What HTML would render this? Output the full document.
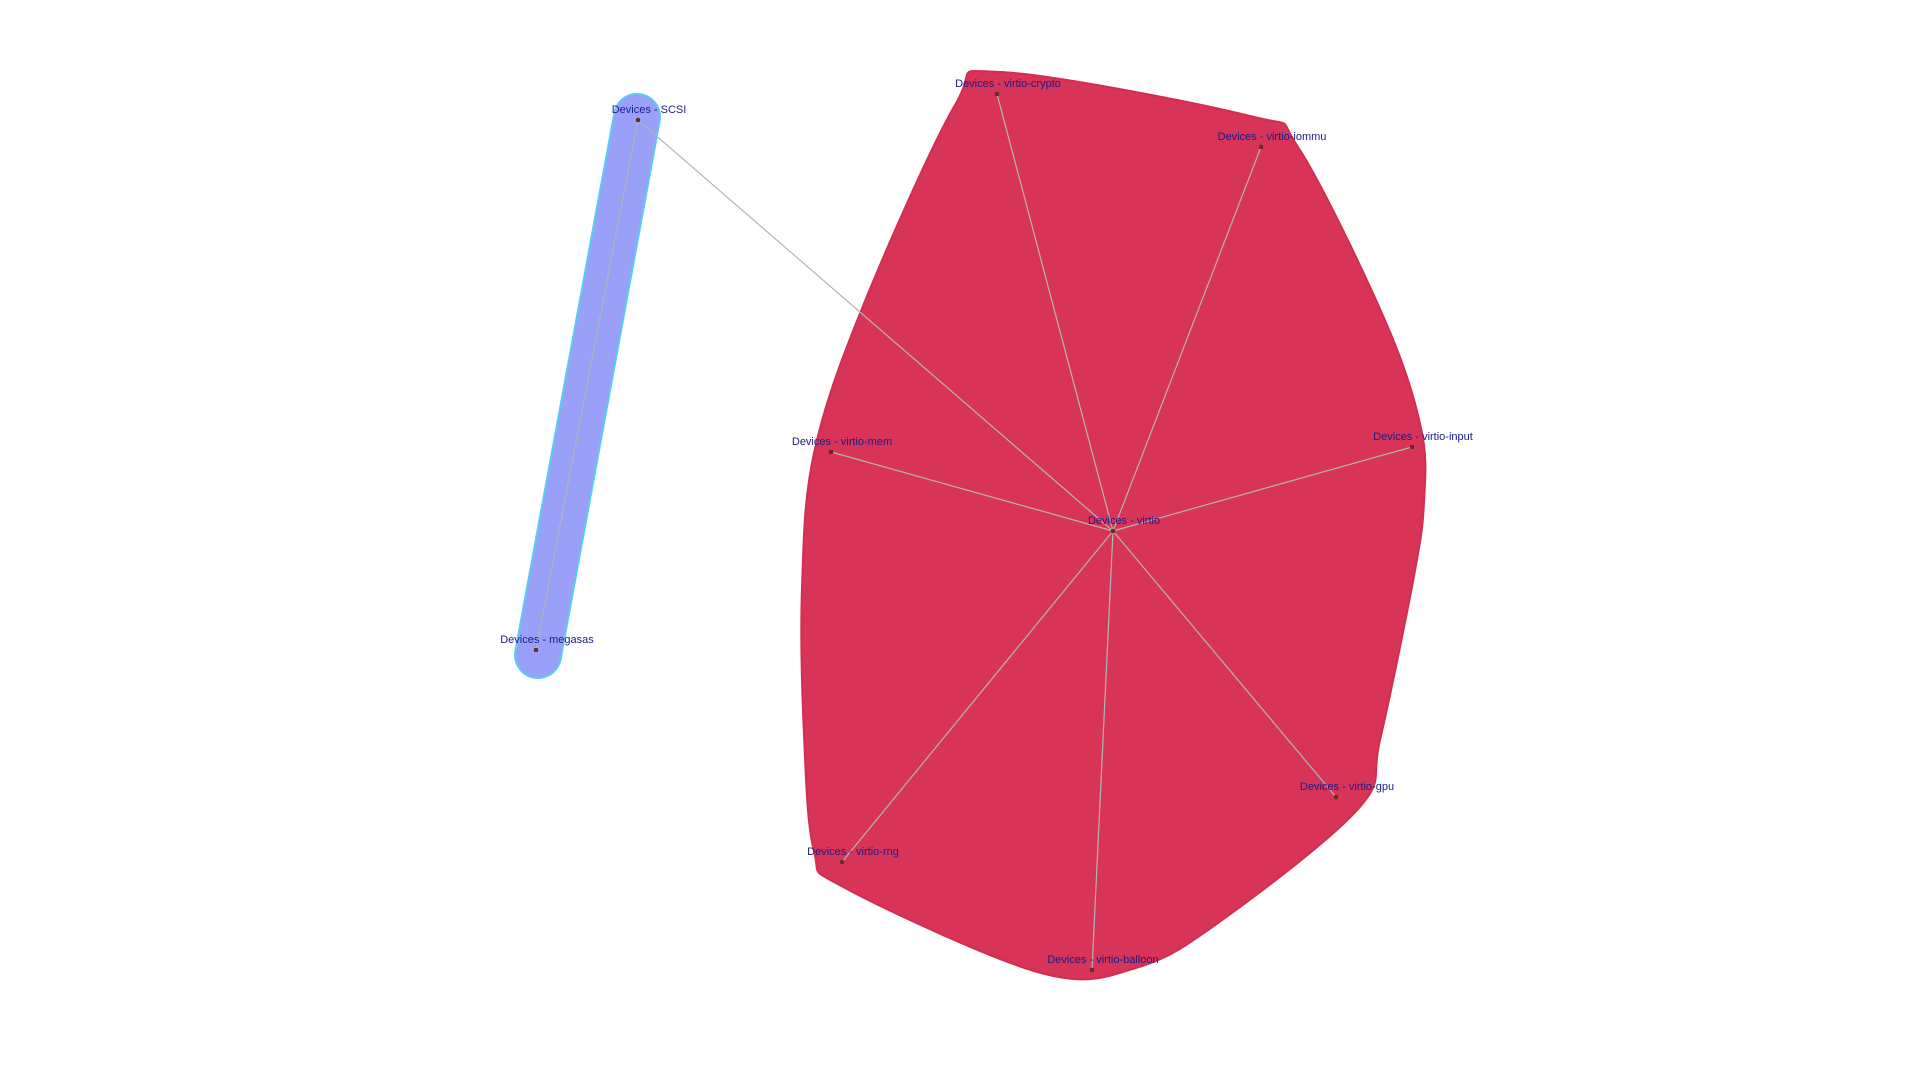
<!DOCTYPE html>
<html><head><meta charset="utf-8"><style>
html,body{margin:0;padding:0;background:#fff;}
svg{display:block;}
text{font-family:"Liberation Sans",sans-serif;font-size:11px;fill:#1a1a8c;}
</style></head><body>
<svg id="chart" width="1920" height="1080" viewBox="0 0 1920 1080">
<g id="hulls"></g>
<g id="edges"></g>
<g id="nodes"></g>
</svg>
<script>
const nodeNames = ["Devices - SCSI","Devices - megasas","Devices - virtio","Devices - virtio-crypto","Devices - virtio-iommu","Devices - virtio-input","Devices - virtio-gpu","Devices - virtio-balloon","Devices - virtio-rng","Devices - virtio-mem"];
const nodeX = [638,536,1113,997,1261,1412,1336,1092,842,831];
const nodeY = [120,650,531,94,147,447,797,970,862,452];
const nodeGroup = [0,0,1,1,1,1,1,1,1,1];
const edgeSource = [0,0,2,2,2,2,2,2,2];
const edgeTarget = [1,2,3,4,5,6,7,8,9];
const redHullOutline = [[1000,72],[1250,116],[1298,147],[1384,318],[1421,428],[1424,502],[1414,576],[1380,740],[1359,808],[1225,918],[1139,967],[1041,973],[845,888],[814,851],[804,735],[802,588],[814,453],[863,306],[955,105]];
const NS="http://www.w3.org/2000/svg";
const hulls=document.getElementById('hulls'), edges=document.getElementById('edges'), nodes=document.getElementById('nodes');
function mk(t,a){const e=document.createElementNS(NS,t);for(const k in a)e.setAttribute(k,a[k]);return e;}
function smoothClosed(p){
  const n=p.length;let d='M'+p[0][0]+','+p[0][1];
  for(let i=0;i<n;i++){
    const p0=p[(i-1+n)%n],p1=p[i],p2=p[(i+1)%n],p3=p[(i+2)%n];
    const c1=[p1[0]+(p2[0]-p0[0])/6,p1[1]+(p2[1]-p0[1])/6];
    const c2=[p2[0]-(p3[0]-p1[0])/6,p2[1]-(p3[1]-p1[1])/6];
    d+=' C'+c1[0]+','+c1[1]+' '+c2[0]+','+c2[1]+' '+p2[0]+','+p2[1];
  }
  return d+'Z';
}
const rh=mk('path',{d:smoothClosed(redHullOutline),fill:'#d83458',stroke:'#d42d52','stroke-width':2,'stroke-linejoin':'round'});


hulls.appendChild(rh);
const g0=[0,1];
const bo=mk('line',{x1:nodeX[g0[0]]-1,y1:nodeY[g0[0]]-3,x2:nodeX[g0[1]]+2,y2:nodeY[g0[1]]+5,stroke:'#5ccbf2','stroke-width':48,'stroke-linecap':'round'});


hulls.appendChild(bo);
const bi=mk('line',{x1:nodeX[g0[0]]-1,y1:nodeY[g0[0]]-3,x2:nodeX[g0[1]]+2,y2:nodeY[g0[1]]+5,stroke:'#9a9ff8','stroke-width':44,'stroke-linecap':'round'});


hulls.appendChild(bi);
for(let i=0;i<edgeSource.length;i++){
  const s=edgeSource[i],t=edgeTarget[i];
  const l=mk('line',{x1:nodeX[s],y1:nodeY[s],x2:nodeX[t],y2:nodeY[t],stroke:'#b4b4b4','stroke-width':1.2});
  
  
  edges.appendChild(l);
}
for(let i=0;i<nodeNames.length;i++){
  const c=mk('circle',{cx:nodeX[i],cy:nodeY[i],r:2,fill:'#7a2a10',stroke:'#333','stroke-width':0.5});
  
  
  nodes.appendChild(c);
  const t=mk('text',{x:nodeX[i]+11,y:nodeY[i]-7,'text-anchor':'middle'});
  t.textContent=nodeNames[i];
  
  
  nodes.appendChild(t);
}
</script>
</body></html>
